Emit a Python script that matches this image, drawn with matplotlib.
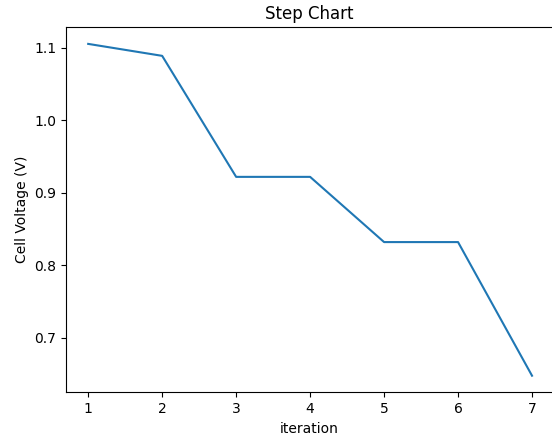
import matplotlib
matplotlib.use("Agg")
import matplotlib.pyplot as plt

# iteration vs cell voltage
iteration = [1, 2, 3, 4, 5, 6, 7]
voltage = [1.1055, 1.089, 0.922, 0.922, 0.832, 0.832, 0.6476]

fig = plt.figure(figsize=(5.52, 4.38), dpi=100)
ax = fig.add_axes([66 / 552, 1 - 392.3 / 438, 486 / 552, 365 / 438])
ax.plot(iteration, voltage)
ax.set_xlim(0.7, 7.27)
ax.spines["right"].set_visible(False)
ax.set_xlabel("iteration")
ax.set_ylabel("Cell Voltage (V)")
ax.set_title("Step Chart")

fig.savefig("out.png", dpi=100)
